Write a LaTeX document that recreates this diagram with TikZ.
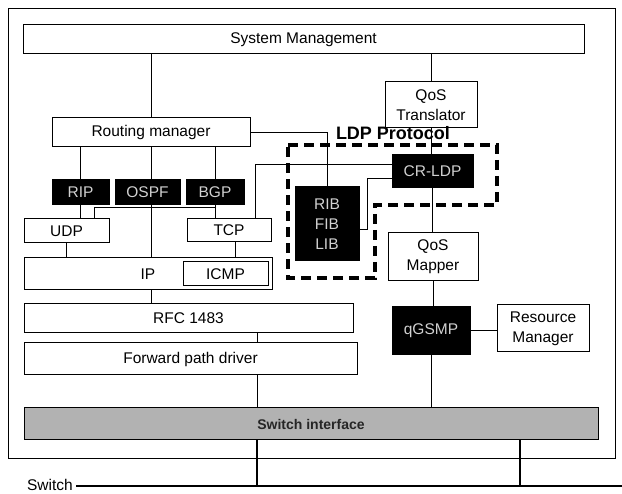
\documentclass[tikz,border=0pt]{standalone}
\usepackage{fontspec}
\setmainfont{Liberation Sans}
\begin{document}
\begin{tikzpicture}[x=1pt,y=-1pt,
  box/.style={draw=black, line width=1pt, fill=white, inner sep=0pt, align=center,
    font=\fontsize{15.5}{20}\selectfont},
  blackbox/.style={box, fill=black, text=black!18},
  conn/.style={line width=1pt},
  heavy/.style={line width=2.2pt},
  ldp/.style={line width=3.2pt, dash pattern=on 10pt off 6pt},
  lbl/.style={inner sep=0pt, font=\fontsize{15.5}{20}\selectfont}]
\useasboundingbox (0,0) rectangle (622,494);
% outer frame
\draw[line width=1pt] (8,9) rectangle (615,459);
% boxes
\node[box, minimum width=561, minimum height=29] (sm) at (303.5,39.5) {System Management};
\node[box, minimum width=92, minimum height=46] (qt) at (431,105) {QoS\\Translator};
\node[box, minimum width=198, minimum height=29] (rm) at (151,132.5) {Routing manager};
\node[blackbox, minimum width=57, minimum height=25] (rip) at (80.5,192.5) {RIP};
\node[blackbox, minimum width=65, minimum height=25] (ospf) at (147.5,192.5) {OSPF};
\node[blackbox, minimum width=58, minimum height=25] (bgp) at (215,192.5) {BGP};
\node[box, minimum width=85, minimum height=24] (udp) at (66.5,231) {UDP};
\node[box, minimum width=84, minimum height=23] (tcp) at (229,230.5) {TCP};
\node[box, minimum width=248, minimum height=32] (ip) at (148,274) {IP};
\node[box, minimum width=85, minimum height=24] (icmp) at (225.5,274) {ICMP};
\node[box, minimum width=329, minimum height=29] (rfc) at (188.5,318.5) {RFC 1483};
\node[box, minimum width=333, minimum height=32] (fpd) at (190.5,359) {Forward path driver};
\node[box, fill=black!30, minimum width=574, minimum height=32,
  font=\fontsize{14}{16}\selectfont\bfseries, text=black!85] (si) at (311,424) {Switch interface};
\node[blackbox, minimum width=81, minimum height=33] (crldp) at (432.5,171.5) {CR-LDP};
\node[blackbox, minimum width=64, minimum height=74] (rib) at (327,224) {RIB\\FIB\\LIB};
\node[box, minimum width=90, minimum height=48] (qm) at (433,257) {QoS\\Mapper};
\node[blackbox, minimum width=78, minimum height=48] (qgsmp) at (431,331) {qGSMP};
\node[box, minimum width=92, minimum height=47] (resm) at (543,328.5) {Resource\\Manager};
% LDP protocol region
\node[inner sep=0pt, font=\fontsize{18}{20}\selectfont\bfseries] (ldpl) at (393,133) {LDP Protocol};
\draw[ldp] (288,145) -- (497,145) -- (497,205) -- (375,205) -- (375,278) -- (288,278) -- cycle;
% helper coordinates
\coordinate (j1) at (94,208);
\coordinate (c1) at (255,165);
\coordinate (c2) at (367,179);
\coordinate (c3) at (367,230);
\coordinate (sw1) at (257,486);
\coordinate (sw2) at (520,486);
\coordinate (swend) at (622,486);
% connectors
\draw[conn] (rm.north) -- (rm.north |- sm.south);
\draw[conn] (qt.north) -- (qt.north |- sm.south);
\draw[conn] (rip.north) -- (rip.north |- rm.south);
\draw[conn] (rip.south) -- (rip.south |- udp.north);
\draw[conn] (rm.south) -- (rm.south |- ospf.north);
\draw[conn] (ospf.south -| rm.south) -- (ip.north -| rm.south);
\draw[conn] (bgp.north |- rm.south) -- (bgp.north);
\draw[conn] (bgp.south) -- (bgp.south |- tcp.north);
\draw[conn] (udp.north -| j1) |- (bgp.south |- j1);
\draw[conn] (rm.east) -| (rib.north);
\draw[conn] (tcp.north -| c1) |- (crldp.west |- c1);
\draw[conn] (crldp.west |- c2) -| (c3) -- (rib.east |- c3);
\draw[conn] (qt.south) -- (qt.south |- crldp.north);
\draw[conn] (crldp.south) -- (crldp.south |- qm.north);
\draw[conn] (qm.south) -- (qm.south |- qgsmp.north);
\draw[conn] (qgsmp.east) -- (qgsmp.east -| resm.west);
\draw[conn] (qgsmp.south) -- (qgsmp.south |- si.north);
\draw[conn] (udp.south) -- (udp.south |- ip.north);
\draw[conn] ([xshift=6pt]tcp.south) -- ([xshift=6pt]tcp.south |- ip.north);
\draw[conn] (ip.south -| rm.south) -- (rfc.north -| rm.south);
\draw[conn] (rfc.south -| sw1) -- (fpd.north -| sw1);
\draw[conn] (fpd.south -| sw1) -- (si.north -| sw1);
\draw[heavy] (si.south -| sw1) -- (sw1);
\draw[heavy] (si.south -| sw2) -- (sw2);
\node[lbl, anchor=east] (swl) at (73,485) {Switch};
\draw[heavy] ([xshift=3pt]swl.east |- swend) -- (swend);
\end{tikzpicture}
\end{document}
